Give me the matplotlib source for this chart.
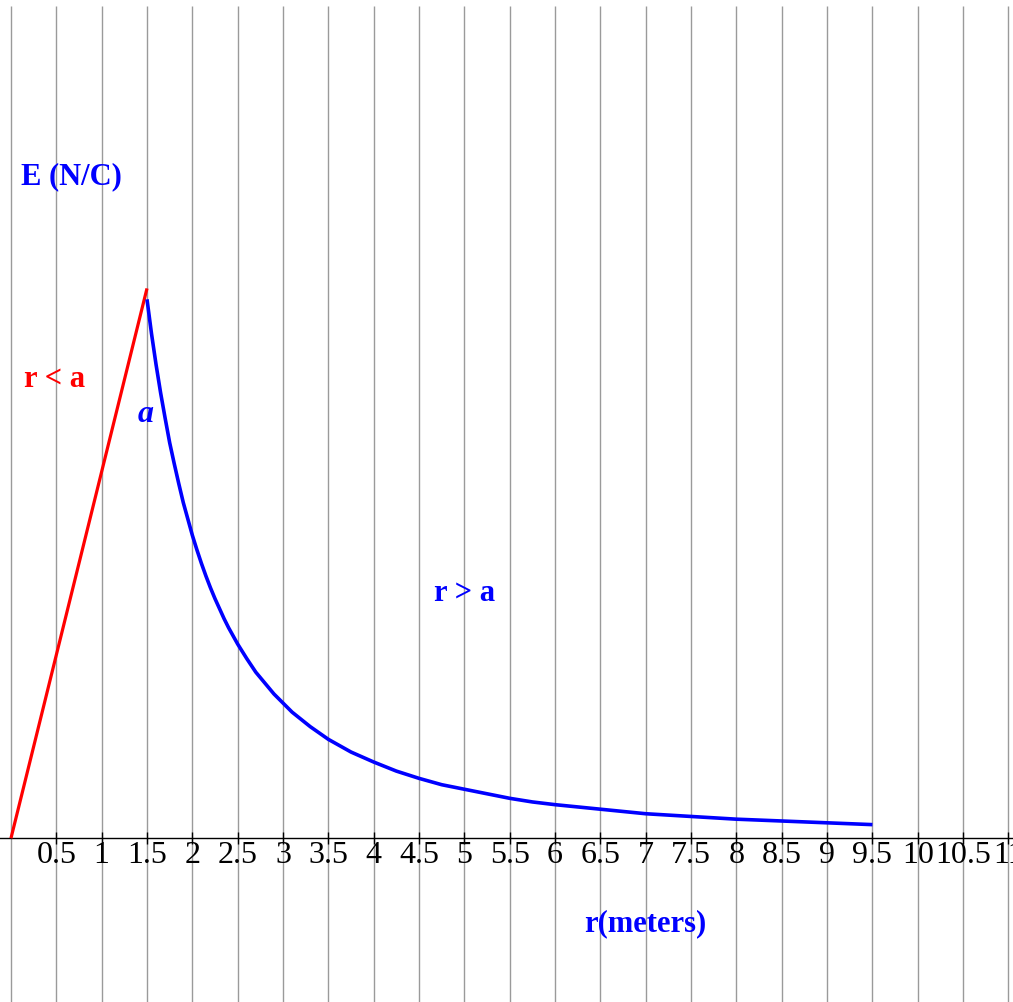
import matplotlib
matplotlib.use("Agg")
import matplotlib.pyplot as plt

# Field inside the sphere (r < a): grows linearly up to the surface
r_inside = [0.0, 1.5]
E_inside = [0.0, 6.06]

# Field outside the sphere (r > a): falls off with distance
r_outside = [1.5, 1.55, 1.6, 1.65, 1.7, 1.75, 1.8, 1.85, 1.9, 1.95, 2.0, 2.05, 2.1, 2.15,
             2.2, 2.25, 2.3, 2.35, 2.4, 2.45, 2.5, 2.6, 2.7, 2.8, 2.9, 3.0, 3.1, 3.2, 3.3,
             3.4, 3.5, 3.75, 4.0, 4.25, 4.5, 4.75, 5.0, 5.25, 5.5, 5.75, 6.0, 6.5, 7.0,
             7.5, 8.0, 8.5, 9.0, 9.5]
E_outside = [5.94, 5.56, 5.22, 4.91, 4.63, 4.36, 4.13, 3.91, 3.70, 3.52, 3.34, 3.18, 3.03,
             2.89, 2.76, 2.64, 2.53, 2.42, 2.32, 2.23, 2.14, 1.98, 1.83, 1.71, 1.59, 1.49,
             1.39, 1.31, 1.23, 1.16, 1.09, 0.95, 0.84, 0.74, 0.66, 0.59, 0.54, 0.49, 0.44,
             0.40, 0.37, 0.32, 0.27, 0.24, 0.21, 0.19, 0.17, 0.15]

# Grid positions and tick labels along the r axis
grid_r = [i * 0.5 for i in range(0, 23)]
tick_r = [i * 0.5 for i in range(1, 23)]
tick_labels = ["0.5", "1", "1.5", "2", "2.5", "3", "3.5", "4", "4.5", "5", "5.5", "6",
               "6.5", "7", "7.5", "8", "8.5", "9", "9.5", "10", "10.5", "11"]

serif = ["Liberation Serif", "DejaVu Serif"]

fig = plt.figure(figsize=(10.13, 10.03), dpi=100)
ax = fig.add_axes([0, 0, 1, 1])
ax.set_xlim(-0.121, 11.05)
ax.set_ylim(-1.805, 9.25)

for s in ("top", "right", "left"):
    ax.spines[s].set_visible(False)
ax.spines["bottom"].set_position(("data", 0))
ax.spines["bottom"].set_linewidth(1.0)
ax.spines["bottom"].set_color("black")

ax.vlines(grid_r, -1.805, 9.17, colors="#9a9a9a", linewidth=1.0, zorder=0)

ax.set_yticks([])
ax.set_xticks(tick_r)
ax.set_xticklabels(tick_labels, fontfamily=serif, fontsize=23)
ax.tick_params(axis="x", direction="inout", length=8, width=1, pad=-3, colors="black")

ax.plot(r_inside, E_inside, color="#ff0000", linewidth=2.3, solid_capstyle="butt", zorder=3)
ax.plot(r_outside, E_outside, color="#0000ff", linewidth=2.6, solid_capstyle="butt",
        solid_joinstyle="round", zorder=3)

ax.text(0.11, 7.3, "E (N/C)", color="#0000ff", fontfamily=serif, fontsize=22,
        fontweight="bold", ha="left", va="center")
ax.text(0.14, 5.07, "r < a", color="#ff0000", fontfamily=serif, fontsize=22,
        fontweight="bold", ha="left", va="center")
ax.text(1.48, 4.68, "a", color="#0000ff", fontfamily=serif, fontsize=23,
        fontweight="bold", fontstyle="italic", ha="center", va="center")
ax.text(5.0, 2.71, "r > a", color="#0000ff", fontfamily=serif, fontsize=22,
        fontweight="bold", ha="center", va="center")
ax.text(7.0, -0.93, "r(meters)", color="#0000ff", fontfamily=serif, fontsize=22,
        fontweight="bold", ha="center", va="center")

fig.savefig("out.png", dpi=100)
